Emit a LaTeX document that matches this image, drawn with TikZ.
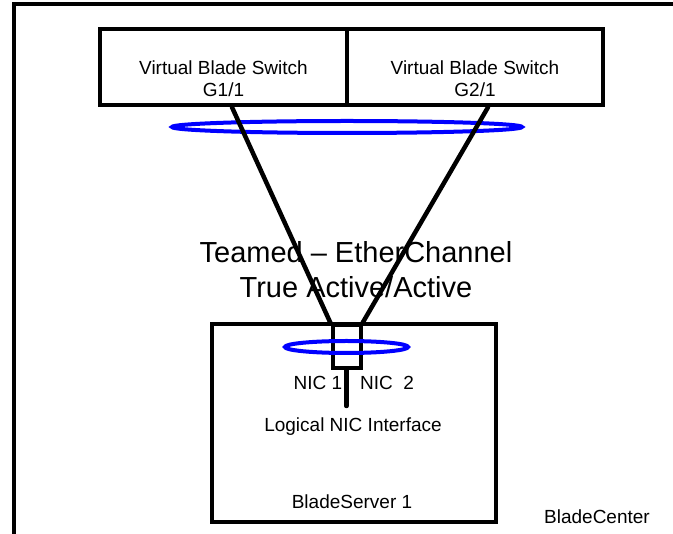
\documentclass[tikz,border=0pt]{standalone}
\usepackage{fontspec}
\setmainfont{Liberation Sans}
\usetikzlibrary{positioning}

\tikzset{
  swbox/.style={draw, line width=4.5pt, minimum height=76pt, inner sep=0pt},
  small/.style={font=\fontsize{19}{22}\selectfont, align=center},
  big/.style={font=\fontsize{29}{35}\selectfont, align=center},
  link/.style={line width=4.5pt, line cap=round},
  team/.style={draw=blue, line width=4pt},
}

\begin{document}
\begin{tikzpicture}[x=1pt,y=-1pt]
\useasboundingbox (0,0) rectangle (673,534);
\clip (0,0) rectangle (673,534);

% bladecenter frame, runs off the page
\draw[line width=4pt] (14,560) -- (14,4.5) -- (700,4.5);
\node[small] (center) at (597,517) {BladeCenter};

% virtual blade switch
\node[swbox, minimum width=247pt] (vbs1) at (223.5,67) {};
\node[swbox, minimum width=256pt] (vbs2) at (475,67) {};
\node[small] (vbs1txt) at (223.5,79) {Virtual Blade Switch\\G1/1};
\node[small] (vbs2txt) at (475,79) {Virtual Blade Switch\\G2/1};
\draw[team] (347,127) ellipse [x radius=175pt, y radius=6pt];

% blade server
\node[swbox, minimum width=284pt, minimum height=198pt] (server) at (354,423) {};
\node[draw, line width=4pt, minimum width=28pt, minimum height=43pt, inner sep=0pt] (nic) at (346.5,346.5) {};
\draw[team] (346.5,347) ellipse [x radius=61.5pt, y radius=6pt];
\coordinate (lni) at (346.5,406);

\node[small] (nic1) at (318,383) {NIC 1};
\node[small] (nic2) at (387,383) {NIC\ \ 2};
\node[small] (logical) at (353,427) {Logical NIC Interface};
\node[small] (bs) at (352,502) {BladeServer 1};

\node[big] (teamed) at (356,270) {Teamed -- EtherChannel\\True Active/Active};

% links
\draw[link] ([xshift=8.5pt]vbs1.south) -- (nic.north west);
\draw[link] ([xshift=13pt]vbs2.south) -- (nic.north east);
\draw[link] (nic.south) -- (lni);
\end{tikzpicture}
\end{document}
